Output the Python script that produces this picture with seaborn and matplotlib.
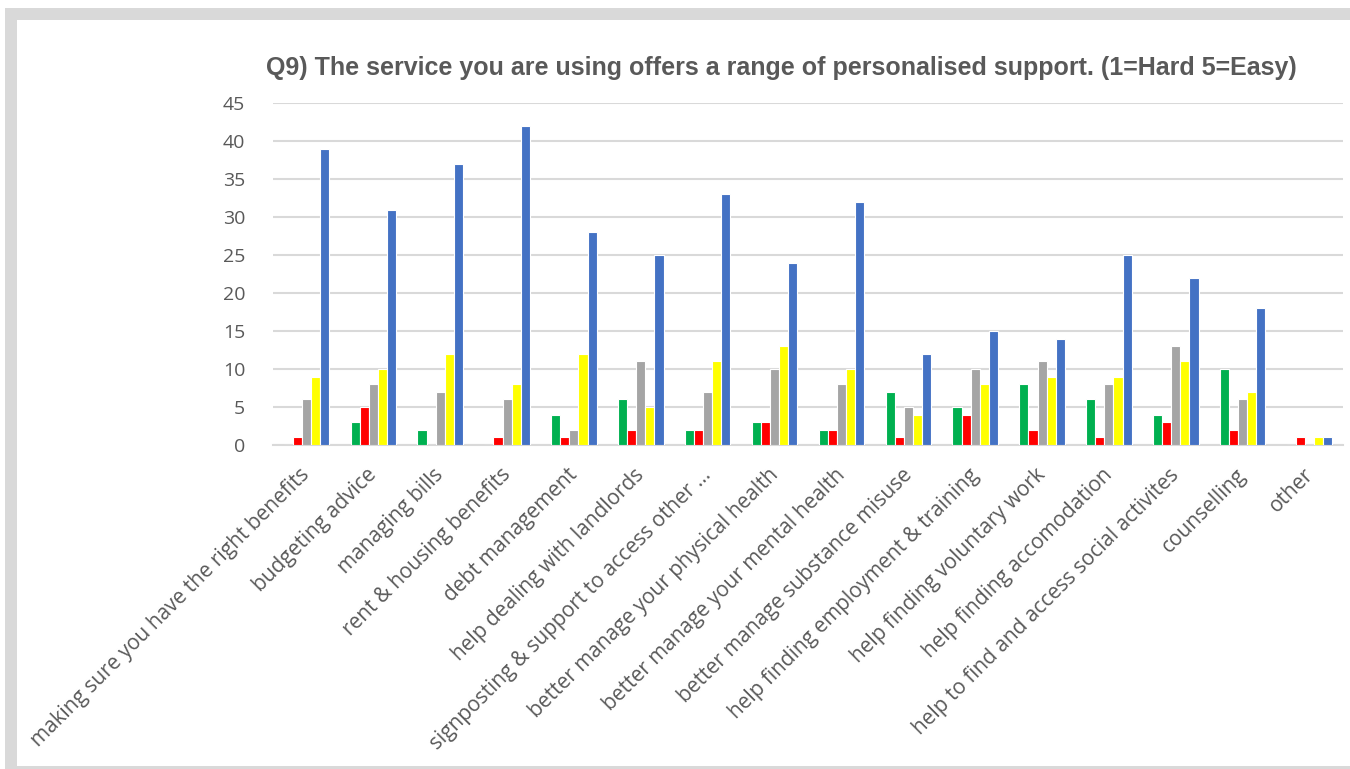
import matplotlib
matplotlib.use("Agg")
import matplotlib.pyplot as plt
import matplotlib.transforms as mtransforms
import seaborn as sns
import pandas as pd
from matplotlib.patches import Rectangle

categories = [
    "making sure you have the right benefits",
    "budgeting advice",
    "managing bills",
    "rent & housing benefits",
    "debt management",
    "help dealing with landlords",
    "signposting & support to access other ...",
    "better manage your physical health",
    "better manage your mental health",
    "better manage substance misuse",
    "help finding employment & training",
    "help finding voluntary work",
    "help finding accomodation",
    "help to find and access social activites",
    "counselling",
    "other",
]

score_1 = [0, 3, 2, 0, 4, 6, 2, 3, 2, 7, 5, 8, 6, 4, 10, 0]
score_2 = [1, 5, 0, 1, 1, 2, 2, 3, 2, 1, 4, 2, 1, 3, 2, 1]
score_3 = [6, 8, 7, 6, 2, 11, 7, 10, 8, 5, 10, 11, 8, 13, 6, 0]
score_4 = [9, 10, 12, 8, 12, 5, 11, 13, 10, 4, 8, 9, 9, 11, 7, 1]
score_5 = [39, 31, 37, 42, 28, 25, 33, 24, 32, 12, 15, 14, 25, 22, 18, 1]

series_names = ["1", "2", "3", "4", "5"]
series_colors = ["#00B050", "#FF0000", "#A5A5A5", "#FFFF00", "#4472C4"]

title = "Q9) The service you are using offers a range of personalised support. (1=Hard 5=Easy)"
y_ticks = [0, 5, 10, 15, 20, 25, 30, 35, 40, 45]

rows = []
for name, vals in zip(series_names, [score_1, score_2, score_3, score_4, score_5]):
    for cat, v in zip(categories, vals):
        rows.append({"category": cat, "score": name, "count": v})
df = pd.DataFrame(rows)

sns.set_theme(style="white")
plt.rcParams["font.family"] = ["Open Sans", "DejaVu Sans"]

fig = plt.figure(figsize=(13.5, 7.69), dpi=100)
fig.patch.set_facecolor("white")

# light grey frame around the chart area
W, H = 1350, 769
fig.patches.append(Rectangle((5 / W, 0), 1, 1 - 8 / H, transform=fig.transFigure,
                             facecolor="#D9D9D9", edgecolor="none", zorder=-10))
fig.patches.append(Rectangle((17 / W, 3 / H), 1, 1 - 20 / H - 3 / H, transform=fig.transFigure,
                             facecolor="white", edgecolor="none", zorder=-9))

ax = fig.add_axes([273 / W, 1 - 445 / H, (1343 - 273) / W, (445 - 103.3) / H])
ax.set_facecolor("none")

sns.barplot(data=df, x="category", y="count", hue="score", hue_order=series_names,
            palette=series_colors, width=0.68, edgecolor="white", linewidth=0.8,
            saturation=1, legend=False, ax=ax, zorder=3)

ax.set_ylim(0, 45)
ax.set_yticks(y_ticks)
ax.set_xlim(-0.5, len(categories) - 0.5)
ax.yaxis.grid(True, color="#D9D9D9", linewidth=1.5, zorder=0)
ax.set_axisbelow(True)
for side in ["top", "right", "left"]:
    ax.spines[side].set_visible(False)
ax.spines["bottom"].set_color("#D9D9D9")
ax.spines["bottom"].set_linewidth(1.5)
ax.set_xlabel("")
ax.set_ylabel("")
ax.tick_params(axis="both", length=0, colors="#595959")
ax.tick_params(axis="y", labelsize=14, pad=20)
ax.tick_params(axis="x", labelsize=15, pad=14)
ax.set_xticks(range(len(categories)))
ax.set_xticklabels(categories, rotation=45, ha="right", rotation_mode="anchor")

# nudge the slanted category labels slightly left
shift = mtransforms.ScaledTranslation(-7 / 100, 0, fig.dpi_scale_trans)
for lbl in ax.get_xticklabels():
    lbl.set_transform(lbl.get_transform() + shift)

fig.text(781 / W, 1 - 68 / H, title, ha="center", va="center", fontsize=18,
         fontweight="bold", color="#595959",
         family=["Liberation Sans Narrow", "Liberation Sans", "DejaVu Sans"])

fig.savefig("out.png", dpi=100)
